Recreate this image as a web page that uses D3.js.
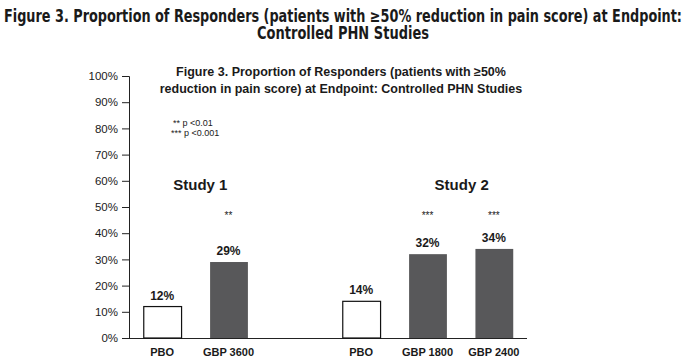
<!DOCTYPE html>
<html>
<head>
<meta charset="utf-8">
<script src="https://cdn.jsdelivr.net/npm/d3@7"></script>
<style>
  body { margin: 0; background: #fff; }
  text { font-family: "Liberation Sans", Arial, sans-serif; fill: #1a1a1a; }
  .ttl { font-family: "Liberation Sans Narrow", "DejaVu Sans Condensed", "Liberation Sans", sans-serif; font-weight: bold; }
</style>
</head>
<body>
<div id="chart"></div>
<script>
// data
const slots = ["s1-pbo", "s1-3600", "gap", "s2-pbo", "s2-1800", "s2-2400"];
const barKeys = ["s1-pbo", "s1-3600", "s2-pbo", "s2-1800", "s2-2400"];
const barLabels = ["PBO", "GBP 3600", "PBO", "GBP 1800", "GBP 2400"];
const responders = [12, 29, 14, 32, 34];
const isDrug = [false, true, false, true, true];
const stars = ["", "**", "", "***", "***"];
const yTicks = [0, 10, 20, 30, 40, 50, 60, 70, 80, 90, 100];

const W = 686, H = 362;
const margin = { top: 76, right: 159, bottom: 24, left: 129 };
const width = W - margin.left - margin.right,
    height = H - margin.top - margin.bottom;

const svgRoot = d3.select("#chart")
    .append("svg")
    .attr("width", W)
    .attr("height", H);

// outer title
svgRoot.append("text")
    .attr("class", "ttl")
    .attr("x", W / 2)
    .attr("y", 22)
    .attr("text-anchor", "middle")
    .attr("textLength", 678)
    .attr("lengthAdjust", "spacingAndGlyphs")
    .style("font-size", "17px")
    .text("Figure 3. Proportion of Responders (patients with \u226550% reduction in pain score) at Endpoint:");
svgRoot.append("text")
    .attr("class", "ttl")
    .attr("x", W / 2)
    .attr("y", 39)
    .attr("text-anchor", "middle")
    .attr("textLength", 172)
    .attr("lengthAdjust", "spacingAndGlyphs")
    .style("font-size", "17px")
    .text("Controlled PHN Studies");

const svg = svgRoot.append("g")
    .attr("transform", `translate(${margin.left},${margin.top})`);

const x = d3.scaleBand()
    .domain(slots)
    .range([0, width])
    .paddingInner(0.43)
    .paddingOuter(0.215);

const y = d3.scaleLinear()
    .domain([0, 100])
    .range([height, 0]);

// y axis
const yAxis = svg.append("g")
    .call(d3.axisLeft(y).tickValues(yTicks).tickFormat(d => d + "%").tickSize(7).tickPadding(4));
yAxis.select(".domain").attr("stroke", "#222").attr("d", `M-7,0.5H0.5V${height + 0.5}`);
yAxis.selectAll(".tick line").attr("stroke", "#222");
yAxis.selectAll("text").style("font-size", "11.5px").attr("fill", "#222");

// baseline
svg.append("line")
    .attr("x1", 0).attr("x2", width)
    .attr("y1", height + 0.5).attr("y2", height + 0.5)
    .attr("stroke", "#222");

// inner title
svg.append("text")
    .attr("x", 212).attr("y", 0)
    .attr("text-anchor", "middle")
    .style("font-size", "12.5px").style("font-weight", "bold")
    .text("Figure 3. Proportion of Responders (patients with \u226550%");
svg.append("text")
    .attr("x", 212).attr("y", 17)
    .attr("text-anchor", "middle")
    .style("font-size", "12.5px").style("font-weight", "bold")
    .text("reduction in pain score) at Endpoint: Controlled PHN Studies");

// significance key
svg.append("text").attr("x", 44).attr("y", 50).style("font-size", "9px").text("** p <0.01");
svg.append("text").attr("x", 42).attr("y", 60).style("font-size", "9px").text("*** p <0.001");

// study labels
svg.append("text")
    .attr("x", (x("s1-pbo") + x("s1-3600") + x.bandwidth()) / 2 + 5)
    .attr("y", y(56.5))
    .attr("text-anchor", "middle")
    .style("font-size", "15px").style("font-weight", "bold")
    .text("Study 1");
svg.append("text")
    .attr("x", (x("s2-1800") + x("s2-2400") + x.bandwidth()) / 2 + 1)
    .attr("y", y(56.5))
    .attr("text-anchor", "middle")
    .style("font-size", "15px").style("font-weight", "bold")
    .text("Study 2");

// bars
svg.selectAll(".bar")
    .data(barKeys)
    .enter()
    .append("rect")
    .attr("class", "bar")
    .attr("x", d => x(d) + 0.5)
    .attr("y", (d, i) => y(responders[i]))
    .attr("width", x.bandwidth())
    .attr("height", (d, i) => height - y(responders[i]))
    .attr("fill", (d, i) => isDrug[i] ? "#58585a" : "#fff")
    .attr("stroke", (d, i) => isDrug[i] ? "none" : "#111")
    .attr("stroke-width", 1.2);

// value labels
svg.selectAll(".val")
    .data(barKeys)
    .enter()
    .append("text")
    .attr("x", d => x(d) + x.bandwidth() / 2)
    .attr("y", (d, i) => y(responders[i]) - 7)
    .attr("text-anchor", "middle")
    .style("font-size", "12px").style("font-weight", "bold")
    .text((d, i) => responders[i] + "%");

// stars
svg.selectAll(".star")
    .data(barKeys)
    .enter()
    .append("text")
    .attr("x", d => x(d) + x.bandwidth() / 2)
    .attr("y", y(45.5))
    .attr("text-anchor", "middle")
    .style("font-size", "10px")
    .text((d, i) => stars[i]);

// category labels
svg.selectAll(".cat")
    .data(barKeys)
    .enter()
    .append("text")
    .attr("x", d => x(d) + x.bandwidth() / 2)
    .attr("y", height + 18)
    .attr("text-anchor", "middle")
    .style("font-size", "11px").style("font-weight", "bold")
    .text((d, i) => barLabels[i]);
</script>
</body>
</html>
